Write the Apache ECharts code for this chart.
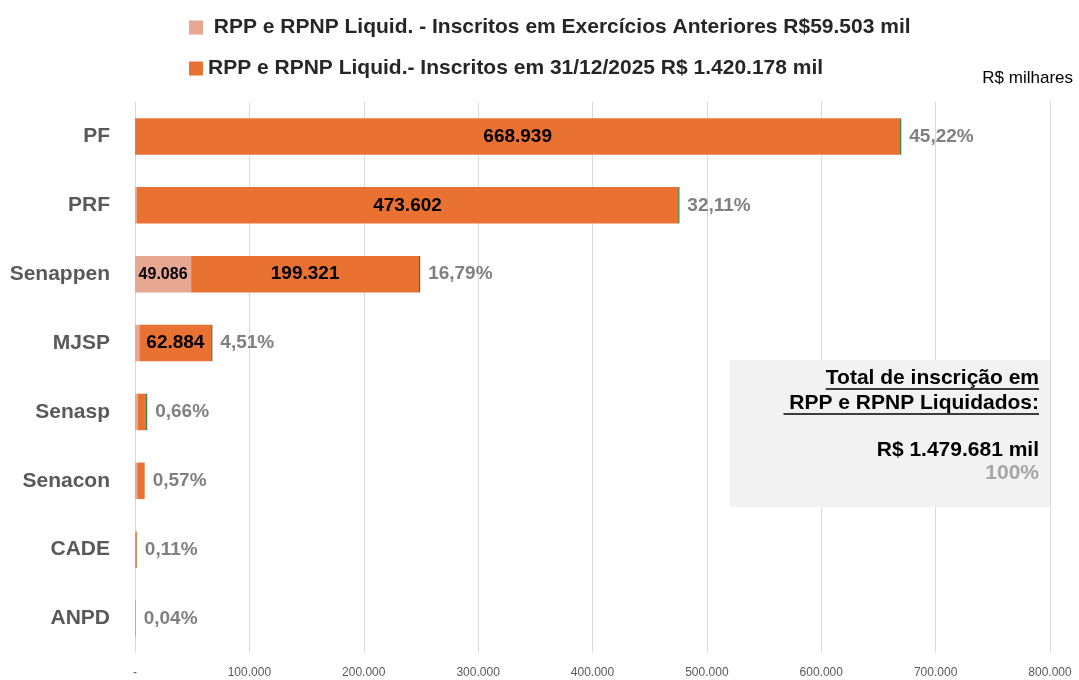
<!DOCTYPE html>
<html><head><meta charset="utf-8">
<script src="https://cdn.jsdelivr.net/npm/echarts@6/dist/echarts.min.js"></script>
<style>html,body{margin:0;padding:0;background:#fff}#c{width:1079px;height:680px}</style>
</head><body><div id="c"></div>
<script>
const categories = ['PF','PRF','Senappen','MJSP','Senasp','Senacon','CADE','ANPD'];
const anteriores = [100, 1450, 49086, 3850, 2400, 2050, 378, 160];
const inscritos2025 = [668939, 473602, 199321, 62884, 7366, 6384, 1250, 432];
const endMarker = [900, 900, 900, 900, 900, 0, 0, 0];
const percents = ['45,22%','32,11%','16,79%','4,51%','0,66%','0,57%','0,11%','0,04%'];
const legendNames = [' RPP e RPNP Liquid. - Inscritos em Exercícios Anteriores R$59.503 mil',
                     'RPP e RPNP Liquid.- Inscritos em 31/12/2025 R$ 1.420.178 mil'];
const boxLines = ['Total de inscrição em', ' RPP e RPNP Liquidados:', 'R$ 1.479.681 mil', '100%'];

function fmt(v){ return v===0 ? '-' : Math.round(v).toString().replace(/\B(?=(\d{3})+(?!\d))/g,'.'); }

const chart = echarts.init(document.getElementById('c'), null, {renderer:'canvas'});
const FONT = '"Liberation Sans", Arial, sans-serif';
const ctx = document.createElement('canvas').getContext('2d');
ctx.font = 'bold 21px ' + FONT;
const w0 = ctx.measureText(boxLines[0]).width, w1 = ctx.measureText(boxLines[1]).width;
const rx = 1039;

chart.setOption({
  animation:false,
  textStyle:{fontFamily:FONT},
  legend:{
    data:legendNames, orient:'vertical', left:184, top:12, itemGap:20,
    icon:'rect', itemWidth:14, itemHeight:14, itemStyle:{borderWidth:0},
    textStyle:{fontFamily:FONT, fontWeight:'bold', fontSize:21, color:'#262626'}
  },
  grid:{left:135, right:29, top:102, bottom:27, containLabel:false},
  xAxis:{type:'value', min:0, max:800000, interval:100000,
    axisLine:{show:false}, axisTick:{show:false},
    splitLine:{lineStyle:{color:'#d9d9d9', width:1}},
    axisLabel:{margin:14, color:'#595959', fontSize:12, formatter:v=>fmt(v)}
  },
  yAxis:{type:'category', data:categories, inverse:true,
    axisLine:{show:false}, axisTick:{show:false},
    axisLabel:{margin:25, color:'#595959', fontSize:21, fontWeight:'bold'}
  },
  series:[
    {name:legendNames[0], type:'bar', stack:'t', data:anteriores, barCategoryGap:'47%',
      itemStyle:{color:'#E8A793'},
      label:{show:true, position:'inside', color:'#000', fontWeight:'bold', fontSize:16,
        formatter:p=> p.value>=40000 ? fmt(p.value) : ''}},
    {name:legendNames[1], type:'bar', stack:'t', data:inscritos2025,
      itemStyle:{color:'#E97132'},
      label:{show:true, position:'inside', color:'#000', fontWeight:'bold', fontSize:19,
        formatter:p=> p.value>=40000 ? fmt(p.value) : ''}},
    {name:'total', type:'bar', stack:'t', data:endMarker,
      itemStyle:{color:'#196B24'},
      label:{show:true, position:'right', distance:8, color:'#808080', fontWeight:'bold', fontSize:19,
        formatter:p=> percents[p.dataIndex]}}
  ],
  graphic:[
    {type:'text', x:1073, y:78, style:{text:'R$ milhares', align:'right', verticalAlign:'middle', fontSize:17, fill:'#000', fontFamily:FONT}},
    {type:'rect', shape:{x:730, y:360, width:320, height:147}, style:{fill:'#f2f2f2'}, z:10},
    {type:'text', x:rx, y:378, z:11, style:{text:boxLines[0], align:'right', verticalAlign:'middle', font:'bold 21px ' + FONT, fill:'#000'}},
    {type:'line', z:11, shape:{x1:rx-w0, y1:389, x2:rx, y2:389}, style:{stroke:'#000', lineWidth:1.5}},
    {type:'text', x:rx, y:403, z:11, style:{text:boxLines[1], align:'right', verticalAlign:'middle', font:'bold 21px ' + FONT, fill:'#000'}},
    {type:'line', z:11, shape:{x1:rx-w1, y1:414, x2:rx, y2:414}, style:{stroke:'#000', lineWidth:1.5}},
    {type:'text', x:rx, y:450, z:11, style:{text:boxLines[2], align:'right', verticalAlign:'middle', font:'bold 21px ' + FONT, fill:'#000'}},
    {type:'text', x:rx, y:473, z:11, style:{text:boxLines[3], align:'right', verticalAlign:'middle', font:'bold 21px ' + FONT, fill:'#a6a6a6'}}
  ]
});
</script></body></html>
